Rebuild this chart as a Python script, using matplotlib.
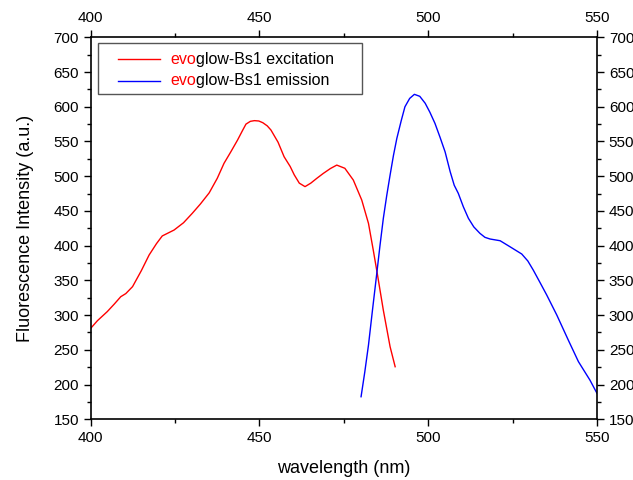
import matplotlib
matplotlib.use("Agg")
import matplotlib.pyplot as plt
from matplotlib.patches import Rectangle
from matplotlib.ticker import MultipleLocator

plt.rcParams['font.family'] = ['Liberation Sans', 'DejaVu Sans']

# excitation spectrum (red)
exc_nm = [400, 402, 404.9, 407, 408.9, 410.4, 412.4, 415, 417.3, 419.5, 421.2, 424.7,
          427.5, 430.1, 432.5, 435.1, 437.5, 439.5, 441.5, 443.5, 445, 446, 447.3, 448.5,
          449.8, 451, 452.3, 453.4, 455.5, 457.3, 459.1, 460.3, 461.8, 463.5, 465.2, 467,
          468.9, 471, 472.9, 475.3, 477.8, 480.3, 482.3, 483.7, 484.9, 486.7, 488.7, 490.2]
exc_val = [281, 292, 305, 316, 326.5, 331, 341, 364, 386.5, 403, 414, 422.5,
           433, 446.6, 460, 476, 497, 518.6, 535, 552, 566, 575, 579, 580,
           579.5, 577, 572.5, 566.5, 549, 528, 514, 502, 490, 485, 490, 497,
           504, 511, 516, 511.4, 494.5, 465.7, 432, 394, 360, 307, 254.5, 225.7]

# emission spectrum (blue)
em_nm = [480.1, 481.2, 482.3, 483.5, 484.7, 485.7, 486.7, 487.7, 488.7, 489.7,
         490.7, 492, 493.1, 494.5, 495.9, 497.5, 499.1, 500.5, 502, 503.5, 505,
         506.5, 507.7, 508.9, 510.4, 511.9, 513.5, 515.3, 516.8, 518.3, 521.3,
         524.2, 527.7, 529.5, 531.1, 533, 535.1, 538.1, 541.5, 544.5, 547.9, 550]
em_val = [182.5, 218, 257, 308, 357.7, 400, 439.4, 472, 501.7, 530,
          554.5, 580, 600, 612, 617.9, 615, 605, 592, 576, 556, 535,
          506.5, 487, 475.4, 456, 439.4, 427, 417.8, 412, 409.6, 407.1,
          398.5, 388, 378, 365, 348, 329, 300, 264, 233, 206.5, 187.4]

fig = plt.figure(figsize=(6.33, 4.8), dpi=100)
ax = fig.add_axes([90.7 / 633, 1 - 419.3 / 480, (597 - 90.7) / 633, (419.3 - 37.3) / 480])

ax.plot(exc_nm, exc_val, color='#ff0000', lw=1.0)
ax.plot(em_nm, em_val, color='#0000ff', lw=1.0)

ax.set_xlim(400, 550)
ax.set_ylim(150, 700)
ax.xaxis.set_major_locator(MultipleLocator(50))
ax.xaxis.set_minor_locator(MultipleLocator(25))
ax.yaxis.set_major_locator(MultipleLocator(50))
ax.yaxis.set_minor_locator(MultipleLocator(25))
ax.tick_params(which='both', direction='out', top=True, right=True,
               labeltop=True, labelright=True, labelsize=11, width=1.0)
ax.tick_params(which='major', length=5)
ax.tick_params(which='minor', length=3)
for s in ax.spines.values():
    s.set_linewidth(1.2)

ax.set_xlabel('wavelength (nm)', fontsize=13, labelpad=11)
ax.set_ylabel('Fluorescence Intensity (a.u.)', fontsize=13, labelpad=14)

# legend box drawn by hand so "evo" can be red
ax.add_patch(Rectangle((0.015, 0.852), 0.52, 0.133, transform=ax.transAxes,
                       fill=False, edgecolor='#555555', lw=1.0, zorder=5))
labels = [('glow-Bs1 excitation', '#ff0000', 0.943),
          ('glow-Bs1 emission', '#0000ff', 0.886)]
for txt, col, yy in labels:
    ax.plot([0.054, 0.137], [yy, yy], transform=ax.transAxes, color=col, lw=1.0)
    t = ax.text(0.157, yy, 'evo', color='#ff0000', fontsize=11.5,
                transform=ax.transAxes, va='center')
    ax.annotate(txt, xy=(1, 0.5), xycoords=t, va='center', ha='left',
                fontsize=11.5, color='black')

fig.savefig('out.png', dpi=100)
